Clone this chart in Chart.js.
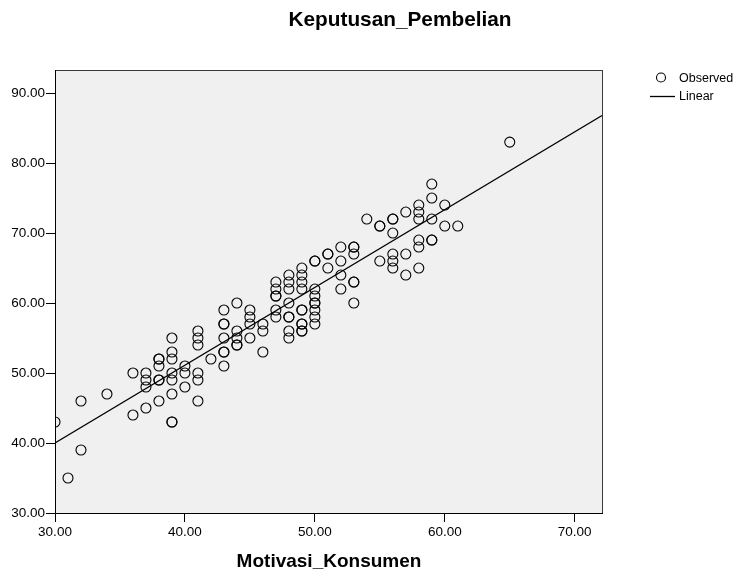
<!DOCTYPE html>
<html>
<head>
<meta charset="utf-8">
<script src="https://cdn.jsdelivr.net/npm/chart.js@4"></script>
<style>
  html, body { margin: 0; padding: 0; background: #fff; }
  #wrap { width: 743px; height: 574px; }
</style>
</head>
<body>
<div id="wrap"><canvas id="chart" width="743" height="574"></canvas></div>
<script>
// Observed points: Motivasi_Konsumen (x) vs Keputusan_Pembelian (y)
const obsX = [
  30, 31, 32, 32, 34, 36, 36,
  37, 37, 37, 37,
  38, 38, 38, 38, 38, 38,
  39, 39, 39, 39, 39, 39, 39, 39,
  40, 40, 40,
  41, 41, 41, 41, 41, 41,
  42,
  43, 43, 43, 43, 43, 43, 43,
  44, 44, 44, 44, 44,
  45, 45, 45, 45,
  46, 46, 46,
  47, 47, 47, 47, 47, 47,
  48, 48, 48, 48, 48, 48, 48, 48,
  49, 49, 49, 49, 49, 49, 49, 49, 49, 49,
  50, 50, 50, 50, 50, 50, 50, 50, 50,
  51, 51, 51,
  52, 52, 52, 52,
  53, 53, 53, 53, 53, 53,
  54,
  55, 55, 55,
  56, 56, 56, 56, 56, 56,
  57, 57, 57,
  58, 58, 58, 58, 58, 58,
  59, 59, 59, 59, 59,
  60, 60,
  61,
  65
];
const obsY = [
  43, 35, 46, 39, 47, 50, 44,
  50, 49, 48, 45,
  52, 52, 51, 49, 49, 46,
  55, 53, 52, 50, 49, 47, 43, 43,
  51, 50, 48,
  56, 55, 54, 50, 49, 46,
  52,
  59, 57, 57, 55, 53, 53, 51,
  60, 56, 55, 54, 54,
  59, 58, 57, 55,
  57, 56, 53,
  63, 62, 61, 61, 59, 58,
  64, 63, 62, 60, 58, 58, 56, 55,
  65, 64, 63, 62, 59, 59, 57, 57, 56, 56,
  66, 66, 62, 61, 60, 60, 59, 58, 57,
  67, 67, 65,
  68, 66, 64, 62,
  68, 68, 67, 63, 63, 60,
  72,
  71, 71, 66,
  72, 72, 70, 67, 66, 65,
  73, 67, 64,
  74, 73, 72, 69, 68, 65,
  77, 75, 72, 69, 69,
  74, 71,
  71,
  83
];

// Linear fit line at its two ends
const lineX = [30, 72.1];
const lineY = [40.0, 86.8];

const xMin = 30, xMax = 72.1, yMin = 30, yMax = 93.3;

const FONT = "'Liberation Sans', Arial, sans-serif";

const observed = obsX.map((x, i) => ({ x: x, y: obsY[i] }));
const linear = lineX.map((x, i) => ({ x: x, y: lineY[i] }));

// background, frame, titles and legend in SPSS style
const spssLook = {
  id: 'spssLook',
  beforeDraw(chart) {
    const { ctx, chartArea: a } = chart;
    ctx.save();
    ctx.fillStyle = '#f0f0f0';
    ctx.fillRect(a.left, a.top, a.right - a.left, a.bottom - a.top);
    ctx.restore();
  },
  afterDraw(chart) {
    const { ctx, chartArea: a } = chart;
    ctx.save();
    ctx.lineWidth = 1;
    ctx.strokeStyle = '#3a3a3a';
    ctx.strokeRect(a.left + 0.5, a.top + 0.5, a.right - a.left, a.bottom - a.top);
    ctx.strokeStyle = '#000';
    ctx.beginPath();
    ctx.moveTo(a.left + 0.5, a.top);
    ctx.lineTo(a.left + 0.5, a.bottom + 0.5);
    ctx.lineTo(a.right + 1, a.bottom + 0.5);
    ctx.stroke();

    ctx.fillStyle = '#000';
    ctx.textBaseline = 'middle';
    ctx.textAlign = 'center';
    ctx.font = 'bold 20.8px ' + FONT;
    ctx.fillText('Keputusan_Pembelian', 400, 20);
    ctx.font = 'bold 19px ' + FONT;
    ctx.fillText('Motivasi_Konsumen', 329, 562);

    // legend
    ctx.textAlign = 'left';
    ctx.font = '12.5px ' + FONT;
    ctx.lineWidth = 1.1;
    ctx.beginPath();
    ctx.arc(661, 77.5, 4.5, 0, Math.PI * 2);
    ctx.stroke();
    ctx.fillText('Observed', 679, 79);
    ctx.lineWidth = 1.3;
    ctx.beginPath();
    ctx.moveTo(650, 96.5);
    ctx.lineTo(675, 96.5);
    ctx.stroke();
    ctx.fillText('Linear', 679, 97);
    ctx.restore();
  }
};

const tickFmt = v => Number(v).toFixed(2);

new Chart(document.getElementById('chart'), {
  type: 'scatter',
  data: {
    datasets: [
      {
        label: 'Observed',
        data: observed,
        pointStyle: 'circle',
        pointRadius: 5,
        pointHoverRadius: 5,
        pointBorderWidth: 1.1,
        borderColor: '#000',
        backgroundColor: 'rgba(0,0,0,0)'
      },
      {
        label: 'Linear',
        type: 'line',
        data: linear,
        showLine: true,
        pointRadius: 0,
        borderColor: '#000',
        borderWidth: 1.3,
        fill: false
      }
    ]
  },
  options: {
    responsive: false,
    animation: false,
    events: [],
    layout: { padding: { left: 0, right: 141, top: 70, bottom: 0 } },
    plugins: {
      legend: { display: false },
      title: { display: false },
      tooltip: { enabled: false }
    },
    scales: {
      x: {
        type: 'linear',
        min: xMin,
        max: xMax,
        afterFit: s => { s.height = 61; },
        border: { display: false },
        grid: { drawOnChartArea: false, drawTicks: true, tickLength: 9, color: '#000' },
        ticks: {
          stepSize: 10,
          includeBounds: false,
          padding: 2,
          color: '#000',
          font: { family: FONT, size: 13.5 },
          maxRotation: 0,
          callback: tickFmt
        }
      },
      y: {
        type: 'linear',
        min: yMin,
        max: yMax,
        afterFit: s => { s.width = 55; },
        border: { display: false },
        grid: { drawOnChartArea: false, drawTicks: true, tickLength: 9, color: '#000' },
        ticks: {
          stepSize: 10,
          includeBounds: false,
          padding: 1,
          color: '#000',
          font: { family: FONT, size: 13.5 },
          callback: tickFmt
        }
      }
    }
  },
  plugins: [spssLook]
});
</script>
</body>
</html>
